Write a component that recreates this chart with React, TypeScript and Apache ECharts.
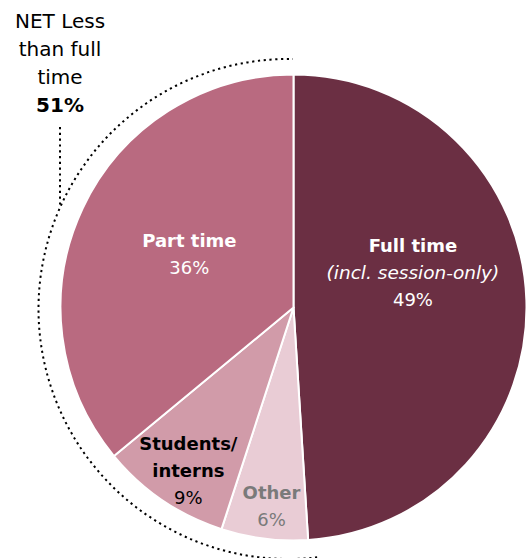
import React, { useEffect, useRef } from "react";
import * as echarts from "echarts";

const categories = ["Full time", "Other", "Students/\ninterns", "Part time"];
const values = [49, 6, 9, 36];
const notes = ["(incl. session-only)", "", "", ""];
const colors = ["#6b2f43", "#e9ccd5", "#d19ba9", "#b96a80"];
const textTone = ["w", "g", "k", "w"];
const netLabel = ["NET Less", "than full", "time"];
const netValue = 51;

// label nudges relative to default inner position (dx, dy)
const labelShift: [number, number][] = [
  [0, -31],
  [-7, 80],
  [-38, 64],
  [4, -3],
];

export default function App() {
  const ref = useRef<HTMLDivElement>(null);
  useEffect(() => {
    if (!ref.current) return;
    const chart = echarts.init(ref.current, null, { renderer: "svg" });
    const font = "'DejaVu Sans', sans-serif";
    const tones: Record<string, string> = { w: "#ffffff", g: "#7a7a7a", k: "#000000" };
    const rich: Record<string, any> = {};
    Object.keys(tones).forEach((t) => {
      rich["b" + t] = { fontFamily: font, fontWeight: "bold", fontSize: 18, lineHeight: 27, color: tones[t] };
      rich["i" + t] = { fontFamily: font, fontStyle: "italic", fontSize: 18.5, lineHeight: 27, color: tones[t] };
      rich["r" + t] = { fontFamily: font, fontSize: 18, lineHeight: 27, color: tones[t] };
    });
    const data = categories.map((name, i) => ({
      name,
      value: values[i],
      itemStyle: { color: colors[i] },
    }));
    const cx = 293.5;
    const cy = 307.5;
    const r = 233;
    chart.setOption({
      animation: false,
      series: [
        {
          type: "pie",
          center: [cx, cy],
          radius: [0, r],
          startAngle: 90,
          clockwise: true,
          silent: true,
          itemStyle: { borderColor: "#ffffff", borderWidth: 2 },
          label: {
            show: true,
            position: "inside",
            formatter: (p: any) => {
              const t = textTone[p.dataIndex];
              const lines = String(p.name)
                .split("\n")
                .map((s) => `{b${t}|${s}}`);
              if (notes[p.dataIndex]) lines.push(`{i${t}|${notes[p.dataIndex]}}`);
              lines.push(`{r${t}|${p.value}%}`);
              return lines.join("\n");
            },
            rich,
          },
          labelLine: { show: false },
          labelLayout: (p: any) => {
            const s = labelShift[p.dataIndex];
            return { dx: s[0], dy: s[1] };
          },
          data,
        },
      ],
      graphic: [
        {
          type: "arc",
          shape: { cx: 288.5, cy: 309, r: 250, startAngle: 1.456, endAngle: 4.73, clockwise: true },
          style: { stroke: "#000", fill: "none", lineWidth: 2, lineDash: [2.2, 3.6] },
          silent: true,
        },
        {
          type: "line",
          shape: { x1: 60, y1: 127, x2: 60, y2: 207 },
          style: { stroke: "#000", lineWidth: 2, lineDash: [2.2, 3.6] },
          silent: true,
        },
        {
          type: "text",
          x: 60,
          y: 7,
          style: {
            text:
              netLabel.map((s) => `{n|${s}}`).join("\n") + `\n{nb|${netValue}%}`,
            align: "center",
            verticalAlign: "top",
            rich: {
              n: { fontFamily: font, fontSize: 20, lineHeight: 28, fill: "#000" },
              nb: { fontFamily: font, fontSize: 20, fontWeight: "bold", lineHeight: 28, fill: "#000" },
            },
          },
          silent: true,
        },
      ],
    });
    return () => chart.dispose();
  }, []);
  return (
    <div
      ref={ref}
      style={{ position: "absolute", left: 0, top: 0, width: 528, height: 558 }}
    />
  );
}
